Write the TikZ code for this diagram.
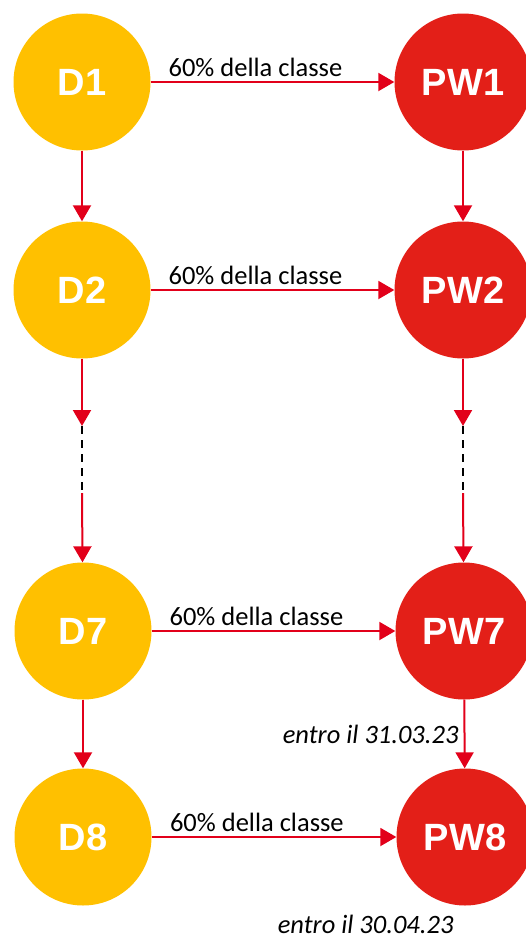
\documentclass[tikz,border=0pt]{standalone}
\usepackage{fontspec}
\setmainfont{Carlito}
\newfontfamily\circfont{Liberation Sans}
\usepackage{xcolor}
\usepackage{tikz}
\usetikzlibrary{arrows.meta,positioning}
\definecolor{diaryorange}{HTML}{FFC000}
\definecolor{pwred}{HTML}{E31F18}
\definecolor{arrowred}{HTML}{E2001A}

\begin{document}
\begin{tikzpicture}[x=1pt, y=-1pt,
        dnode/.style={circle, fill=diaryorange, minimum size=137pt, inner sep=0pt, text=white, font=\circfont\bfseries\fontsize{38}{38}\selectfont},
        pwnode/.style={dnode, fill=pwred},
        link/.style={draw=arrowred, line width=2pt, -{Triangle[length=16pt,width=18pt]}},
        gap/.style={draw=black, line width=2pt, dash pattern=on 8pt off 6pt},
        share/.style={font=\fontsize{26.5}{26.5}\selectfont, above, inner sep=4pt, pos=0.43},
        deadline/.style={font=\itshape\fontsize{26.5}{26.5}\selectfont}]
        \useasboundingbox (0,0) rectangle (525,940);

        % Diari
        \node[dnode] (D1) at (82,82) {D1};
        \node[dnode] (D2) at (82,290) {D2};
        \node[dnode] (D7) at (83,631) {D7};
        \node[dnode] (D8) at (83,837) {D8};

        % Project work
        \node[pwnode] (PW1) at (463,82) {PW1};
        \node[pwnode] (PW2) at (463,290) {PW2};
        \node[pwnode] (PW7) at (464,631) {PW7};
        \node[pwnode] (PW8) at (465,837) {PW8};

        % Punti per i puntini
        \coordinate (Da) at (82,426);
        \coordinate (Db) at (82,493);
        \coordinate (PWa) at (463,426);
        \coordinate (PWb) at (463,493);

        % Frecce orizzontali
        \draw[link] (D1) -- (PW1) node[share] {60\% della classe};
        \draw[link] (D2) -- (PW2) node[share] {60\% della classe};
        \draw[link] (D7) -- (PW7) node[share] {60\% della classe};
        \draw[link] (D8) -- (PW8) node[share] {60\% della classe};

        % Frecce verticali
        \draw[link] (D1) -- (D2);
        \draw[link] (PW1) -- (PW2);
        \draw[link] (D2) -- (Da);
        \draw[gap] (Da) -- (Db);
        \draw[link] (Db) -- (D7);
        \draw[link] (PW2) -- (PWa);
        \draw[gap] (PWa) -- (PWb);
        \draw[link] (PWb) -- (PW7);
        \draw[link] (D7) -- (D8);
        \draw[link] (PW7) -- (PW8) node[deadline, midway, left, inner sep=5pt] {entro il 31.03.23};

        % Scadenza finale
        \node[deadline, anchor=base east] (end8) at ([shift={(-8,28)}]PW8.south) {entro il 30.04.23};
\end{tikzpicture}
\end{document}
